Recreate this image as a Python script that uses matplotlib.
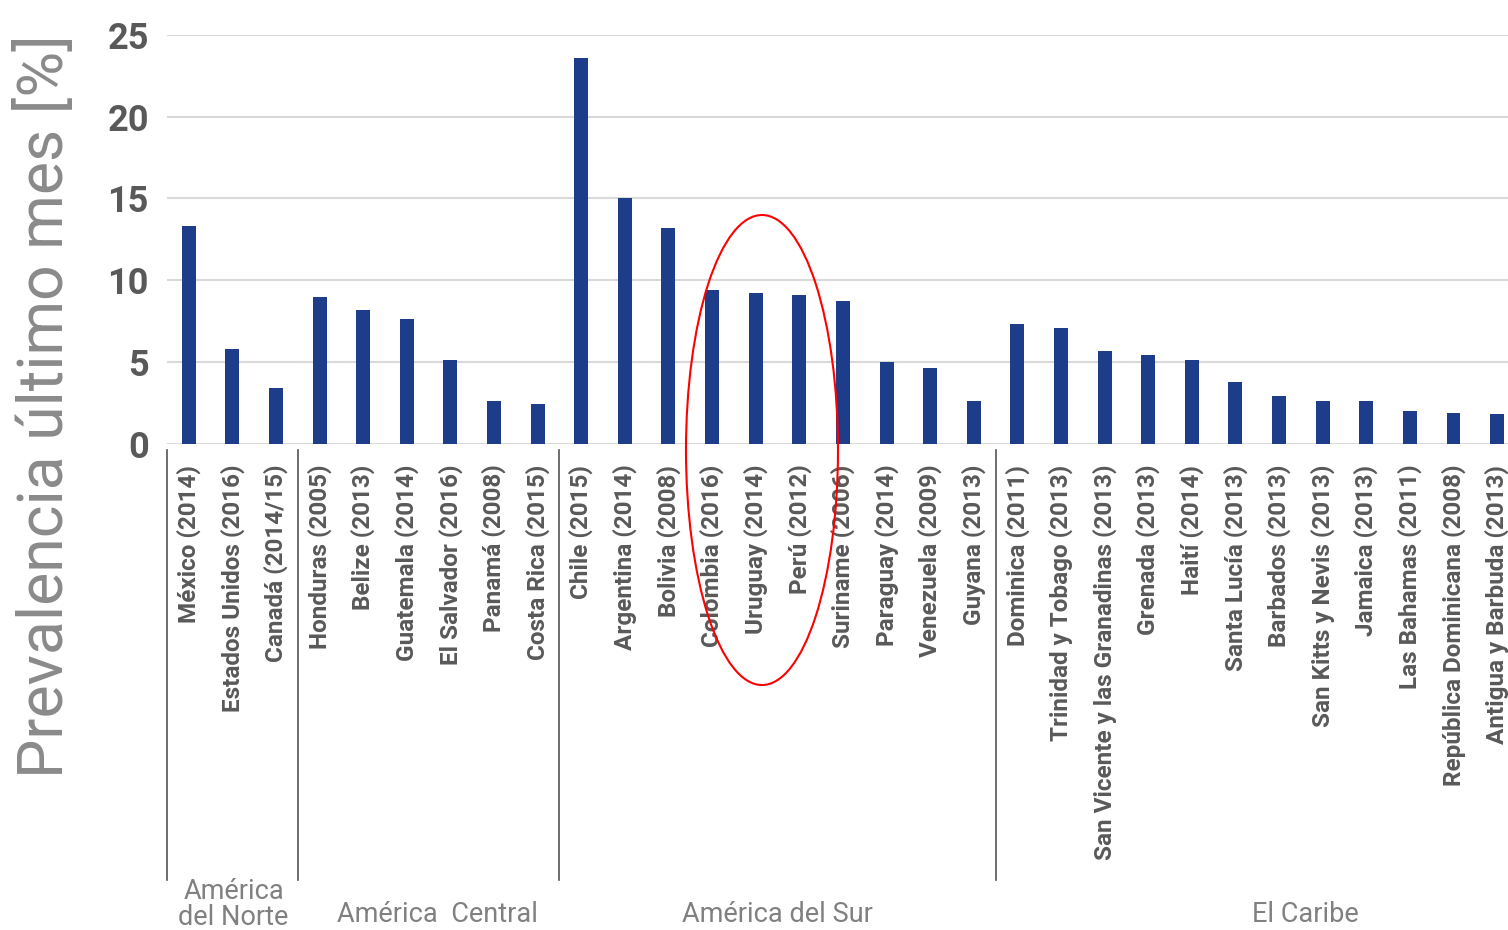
import numpy as np
import matplotlib
matplotlib.use("Agg")
import matplotlib.pyplot as plt
from matplotlib.patches import Ellipse

# ─── Data ──────────────────────────────────────────────────────────────────────

countries = [
    "México (2014)", "Estados Unidos (2016)", "Canadá (2014/15)",
    "Honduras (2005)", "Belize (2013)", "Guatemala (2014)", "El Salvador (2016)",
    "Panamá (2008)", "Costa Rica (2015)",
    "Chile (2015)", "Argentina (2014)", "Bolivia (2008)", "Colombia (2016)",
    "Uruguay (2014)", "Perú (2012)", "Suriname (2006)", "Paraguay (2014)",
    "Venezuela (2009)", "Guyana (2013)",
    "Dominica (2011)", "Trinidad y Tobago (2013)", "San Vicente y las Granadinas (2013)",
    "Grenada (2013)", "Haití (2014)", "Santa Lucía (2013)", "Barbados (2013)",
    "San Kitts y Nevis (2013)", "Jamaica (2013)", "Las Bahamas (2011)",
    "República Dominicana (2008)", "Antigua y Barbuda (2013)",
]
prevalence = [
    13.3, 5.8, 3.4,
    9.0, 8.2, 7.6, 5.1, 2.6, 2.4,
    23.6, 15.0, 13.2, 9.4, 9.2, 9.1, 8.7, 5.0, 4.6, 2.6,
    7.3, 7.1, 5.7, 5.4, 5.1, 3.8, 2.9, 2.6, 2.6, 2.0, 1.9, 1.8,
]
regions = ["América\ndel Norte", "América  Central", "América del Sur", "El Caribe"]
region_sizes = [3, 6, 10, 12]

BAR_COLOR = "#1d3d8b"
TEXT_GRAY = "#595959"
LIGHT_GRAY = "#808080"

# region name placement (x in bar units, y in axes units)
REGION_LABEL_X = [1.03, 5.71, 13.49, 25.6]
REGION_LABEL_Y = [-1.127, -1.153, -1.153, -1.153]

# ─── Figure ────────────────────────────────────────────────────────────────────

fig = plt.figure(figsize=(15.08, 9.3), dpi=100)
ax = fig.add_axes([0.1107, 0.5229, 0.8893, 0.4395])

x = np.arange(len(countries))
ax.bar(x, prevalence, width=0.32, color=BAR_COLOR, zorder=3)

ax.set_xlim(-0.5, len(countries) - 0.75)
ax.set_ylim(0, 25)
ax.set_yticks([0, 5, 10, 15, 20, 25])
ax.yaxis.grid(True, color="#d9d9d9", linewidth=1.5, zorder=0)
for s in ax.spines.values():
    s.set_visible(False)

ax.set_xticks(x)
ax.set_xticklabels(countries, rotation=90, fontsize=17.5, fontweight="bold",
                   color=TEXT_GRAY, family="Roboto", va="top", ha="center")
ax.tick_params(axis="x", length=0, pad=15)
ax.tick_params(axis="y", length=0, pad=13, labelsize=26, labelcolor=TEXT_GRAY)
for lbl in ax.get_yticklabels():
    lbl.set_fontweight("bold")
    lbl.set_family("Roboto")

# group separators and region names
trans = ax.get_xaxis_transform()
edges = np.concatenate([[0], np.cumsum(region_sizes)]) - 0.5
for e in edges[:-1]:
    ax.plot([e, e], [-0.016, -1.068], color="#555555", linewidth=1.2,
            transform=trans, clip_on=False)

for cx, cy, name in zip(REGION_LABEL_X, REGION_LABEL_Y, regions):
    ax.text(cx, cy, name, transform=trans, ha="center", va="center",
            fontsize=19.5, color=LIGHT_GRAY, family="Roboto", linespacing=0.95)

fig.text(0.030, 0.563, "Prevalencia último mes [%]", rotation=90,
         ha="center", va="center", fontsize=45, color="#8a8a8a",
         family="Roboto", fontweight="normal")

# highlight
fig.patches.append(Ellipse((0.5053, 0.5161), 0.1008, 0.5054, fill=False,
                           edgecolor="red", linewidth=1.5,
                           transform=fig.transFigure, figure=fig, zorder=5))

fig.savefig("out.png", dpi=100)
